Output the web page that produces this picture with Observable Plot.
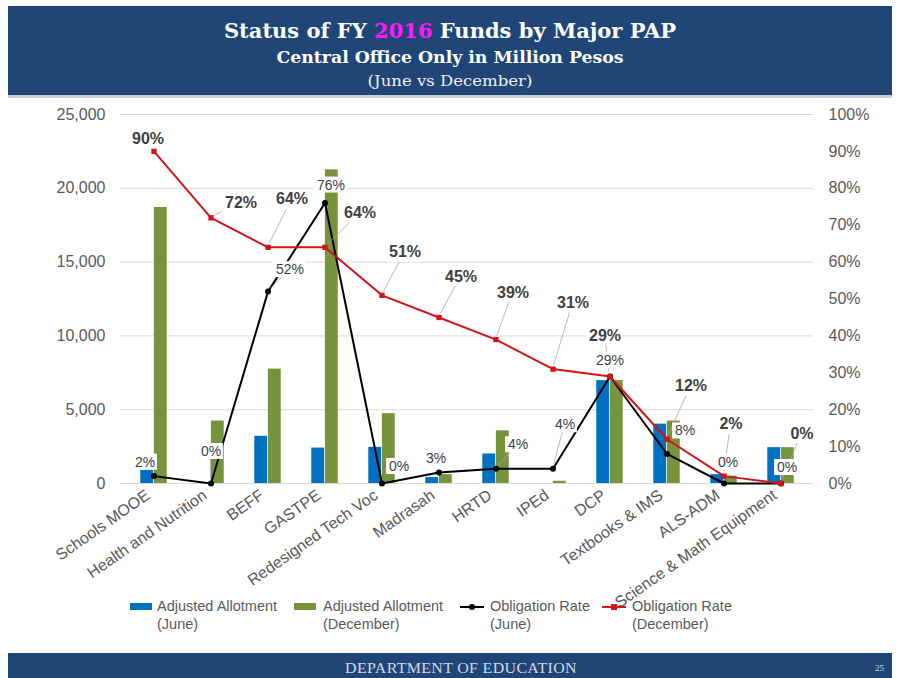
<!DOCTYPE html>
<html><head><meta charset="utf-8">
<script src="https://cdn.jsdelivr.net/npm/d3@7"></script>
<script src="https://cdn.jsdelivr.net/npm/@observablehq/plot@0.6"></script>
<style>
body{margin:0;background:#fff;font-family:"Liberation Sans",Arial,sans-serif;}
#page{position:relative;width:899px;height:678px;overflow:hidden;background:#fff}
#header{position:absolute;left:8px;top:6px;width:884px;height:89px;background:#1f4677;color:#fff;text-align:center;font-family:"DejaVu Serif",serif}
#hline{position:absolute;left:8px;top:95px;width:884px;height:3px;background:#c9cfd9}
.t{position:absolute;left:0;width:100%;white-space:nowrap;transform-origin:center}
#t1{top:13px;font-size:20px;font-weight:bold;transform:scaleX(1.05)}
#t2{top:42px;font-size:16px;font-weight:bold;transform:scaleX(1.08)}
#t3{top:67px;font-size:14px;color:#f0f0f0;transform:scaleX(1.18)}
#chart{position:absolute;left:0;top:96px}
#legend{position:absolute;left:0;top:597px;width:899px;height:40px;font-size:14.5px;color:#595959;line-height:18px}
.li{position:absolute;top:0}
.sw{position:absolute;top:6px;width:22px;height:7px}
.ln{position:absolute;top:9px;width:24px;height:2px}
.mk{position:absolute;top:7px;left:9px;width:6px;height:6px}
.lt{position:absolute;top:0;white-space:nowrap}
#footer{position:absolute;left:8px;top:653px;width:884px;height:25px;background:#1f4677;color:#d3dae5;font-family:"Liberation Serif",serif}
#ft{position:absolute;left:0;width:100%;text-align:center;top:7px;font-size:14.5px;letter-spacing:0.3px;padding-left:20px;box-sizing:border-box;transform:scaleX(1.1);transform-origin:center}
#pn{position:absolute;right:8px;top:10px;font-size:9px}
</style></head>
<body>
<div id="page">
  <div id="header">
    <div class="t" id="t1">Status of FY <span style="color:#ff1aff">2016</span> Funds by Major PAP</div>
    <div class="t" id="t2">Central Office Only in Million Pesos</div>
    <div class="t" id="t3">(June vs December)</div>
  </div>
  <div id="hline"></div>
  <div id="chart"></div>
  <div id="legend"></div>
  <div id="footer"><div id="ft">DEPARTMENT OF EDUCATION</div><div id="pn">25</div></div>
</div>
<script>
// ---- data ----
const categories = ["Schools MOOE","Health and Nutrition","BEFF","GASTPE","Redesigned Tech Voc","Madrasah","HRTD","IPEd","DCP","Textbooks & IMS","ALS-ADM","Science & Math Equipment"];
const allotJune = [900, 0, 3200, 2400, 2450, 400, 2000, 0, 6970, 4020, 600, 2430];
const allotDec  = [18700, 4230, 7750, 21250, 4730, 600, 3570, 150, 6970, 4230, 500, 2430];
const rateJune  = [2, 0, 52, 76, 0, 3, 4, 4, 29, 8, 0, 0];
const rateDec   = [90, 72, 64, 64, 51, 45, 39, 31, 29, 12, 2, 0];
const leftTicks  = [0, 5000, 10000, 15000, 20000, 25000];
const rightTicks = [0, 10, 20, 30, 40, 50, 60, 70, 80, 90, 100];
const seriesNames = ["Adjusted Allotment\n(June)", "Adjusted Allotment\n(December)", "Obligation Rate\n(June)", "Obligation Rate\n(December)"];

// ---- layout / styling (label offsets in px) ----
const offDec  = [[-6,-13],[30,-15],[24,-48],[35,-34],[23,-43],[22,-41],[17,-47],[20,-66],[-5,-41],[24,-53],[7,-52],[21,-50]];
const offJune = [[-9,-14],[0,-32],[22,-22],[6,-18],[17,-17],[-3,-14],[22,-24],[12,-44],[0,-16],[18,-23],[4,-21],[6,-16]];
const BLUE = "#0070c0", GREEN = "#77933c", RED = "#d2141b", BLACK = "#000";
const Y_MAX = 25000;
const toY = r => r / 100 * Y_MAX;

const rows = categories.map((c, i) => ({cat: c, june: allotJune[i], dec: allotDec[i], rj: toY(rateJune[i]), rd: toY(rateDec[i])}));
const decLabels  = rows.map((d, i) => ({cat: d.cat, v: d.rd, text: rateDec[i] + "%",  dx: offDec[i][0],  dy: offDec[i][1],  fs: 16, pad: 8, hp: 4}));
const juneLabels = rows.map((d, i) => ({cat: d.cat, v: d.rj, text: rateJune[i] + "%", dx: offJune[i][0], dy: offJune[i][1], fs: 14, pad: 8, hp: 2}));

const W = 899, H = 556, ML = 120, MR = 86;
const bw = (W - ML - MR) / categories.length;
const half = bw / 2, barW = 13.6;

function labelDecor(list) {
  return (index, scales) => {
    const x = scales.x, y = scales.y;
    const b = x.bandwidth ? x.bandwidth() : bw;
    const g = d3.create("svg:g");
    const geo = list.map(d => {
      const px = x(d.cat) + b / 2, py = y(d.v);
      return {d, px, py, cx: px + d.dx, cy: py + d.dy, w: d.text.length * d.fs * 0.6 + d.pad, h: d.fs + d.hp};
    });
    for (const o of geo) {
      g.append("rect").attr("x", o.cx - o.w / 2).attr("y", o.cy - o.h / 2).attr("width", o.w).attr("height", o.h).attr("fill", "#fff");
    }
    for (const o of geo) {
      const {d} = o;
      const dist = Math.hypot(d.dx, d.dy);
      if (dist > 30) {
        const t = Math.min((o.w / 2) / Math.max(Math.abs(d.dx), 1e-6), (o.h / 2) / Math.max(Math.abs(d.dy), 1e-6));
        const ex = o.cx - d.dx * t, ey = o.cy - d.dy * t;
        const s = 4 / dist;
        g.append("line").attr("x1", o.px + d.dx * s).attr("y1", o.py + d.dy * s).attr("x2", ex).attr("y2", ey)
          .attr("stroke", "#a6a6a6").attr("stroke-width", 0.8);
      }
    }
    return g.node();
  };
}

const textMarks = [
  ...decLabels.map(d => Plot.text([d], {x: "cat", y: "v", text: "text", dx: d.dx, dy: d.dy, fontSize: 16, fontWeight: "bold", fill: "#404040"})),
  ...juneLabels.map(d => Plot.text([d], {x: "cat", y: "v", text: "text", dx: d.dx, dy: d.dy, fontSize: 14, fill: "#404040"}))
];

const chart = Plot.plot({
  width: W, height: H,
  marginLeft: ML, marginRight: MR, marginTop: 18, marginBottom: H - 18 - 369,
  style: {fontFamily: "Liberation Sans, Arial, sans-serif", fontSize: "16px", background: "transparent"},
  x: {domain: categories, padding: 0, label: null},
  y: {domain: [0, Y_MAX], label: null},
  marks: [
    Plot.gridY(leftTicks.filter(t => t > 0), {stroke: "#d9d9d9", strokeOpacity: 1}),
    Plot.ruleY([0], {stroke: "#d9d9d9"}),
    Plot.barY(rows, {x: "cat", y: "june", fill: BLUE, insetLeft: half - barW, insetRight: half}),
    Plot.barY(rows, {x: "cat", y: "dec", fill: GREEN, insetLeft: half, insetRight: half - barW}),
    Plot.line(rows, {x: "cat", y: "rj", stroke: BLACK, strokeWidth: 2}),
    Plot.dot(rows, {x: "cat", y: "rj", fill: BLACK, r: 3}),
    Plot.line(rows, {x: "cat", y: "rd", stroke: RED, strokeWidth: 2}),
    Plot.dot(rows, {x: "cat", y: "rd", fill: RED, symbol: "square", r: 3}),
    labelDecor(decLabels),
    labelDecor(juneLabels),
    ...textMarks,
    Plot.axisY({anchor: "left", ticks: leftTicks, tickFormat: d3.format(","), tickSize: 0, tickPadding: 15, color: "#595959", fontSize: 16, label: null}),
    Plot.axisY({anchor: "right", ticks: rightTicks.map(toY), tickFormat: d => Math.round(d / Y_MAX * 100) + "%", tickSize: 0, tickPadding: 15, color: "#595959", fontSize: 16, label: null}),
    Plot.axisX({tickRotate: -35, tickSize: 0, tickPadding: 10, dx: -6, color: "#595959", fontSize: 16, label: null})
  ]
});
document.getElementById("chart").append(chart);

// ---- legend ----
const legendItems = [
  {name: seriesNames[0], color: BLUE, kind: "bar", x: 130, tx: 157},
  {name: seriesNames[1], color: GREEN, kind: "bar", x: 294, tx: 323},
  {name: seriesNames[2], color: BLACK, kind: "line", x: 460, tx: 490},
  {name: seriesNames[3], color: RED, kind: "line", x: 602, tx: 632}
];
const lg = d3.select("#legend");
for (const it of legendItems) {
  const d = lg.append("div").attr("class", "li").style("left", it.x + "px");
  if (it.kind === "bar") d.append("div").attr("class", "sw").style("background", it.color);
  else {
    d.append("div").attr("class", "ln").style("background", it.color);
    d.append("div").attr("class", "mk").style("background", it.color).style("border-radius", it.color === BLACK ? "50%" : "0");
  }
  d.append("div").attr("class", "lt").style("left", (it.tx - it.x) + "px").html(it.name.replace("\n", "<br>"));
}
</script>
</body></html>
